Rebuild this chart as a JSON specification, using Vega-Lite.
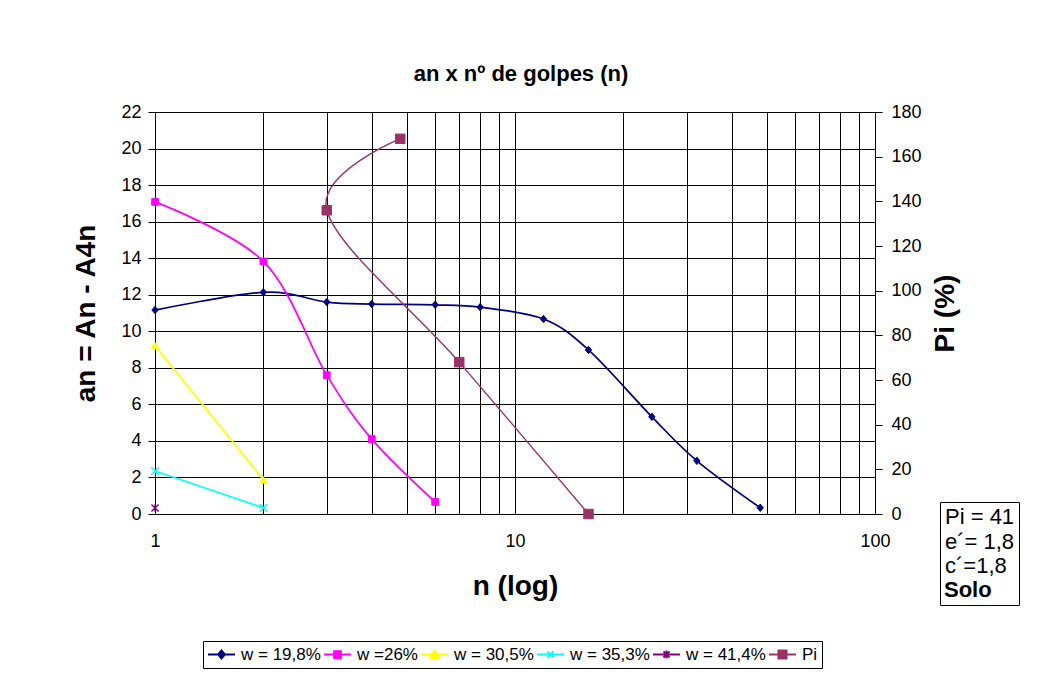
{
  "$schema": "https://vega.github.io/schema/vega-lite/v6.json",
  "width": 720,
  "height": 402,
  "autosize": {"type": "none"},
  "padding": {"left": 155, "top": 112, "right": 170, "bottom": 169},
  "background": "white",
  "config": {
    "view": {"stroke": null},
    "font": "Liberation Sans",
    "axis": {
      "labelFont": "Liberation Sans",
      "titleFont": "Liberation Sans",
      "labelColor": "#000",
      "titleColor": "#000",
      "domainColor": "#000",
      "tickColor": "#000",
      "gridColor": "#000",
      "gridOpacity": 1,
      "labelFontSize": 18,
      "titleFontSize": 28,
      "titleFontWeight": "bold",
      "labelOverlap": false
    }
  },
  "title": {
    "text": "an x nº de golpes (n)",
    "font": "Liberation Sans",
    "fontSize": 22,
    "fontWeight": "bold",
    "color": "#000",
    "anchor": "middle",
    "offset": 17,
    "dx": 6
  },
  "datasets": {
    "w": [
      {"series": "w = 19,8%", "n": 1, "an": 11.16},
      {"series": "w = 19,8%", "n": 2, "an": 12.13},
      {"series": "w = 19,8%", "n": 3, "an": 11.6},
      {"series": "w = 19,8%", "n": 4, "an": 11.49},
      {"series": "w = 19,8%", "n": 6, "an": 11.45},
      {"series": "w = 19,8%", "n": 8, "an": 11.32},
      {"series": "w = 19,8%", "n": 12, "an": 10.67},
      {"series": "w = 19,8%", "n": 16, "an": 8.98},
      {"series": "w = 19,8%", "n": 24, "an": 5.32},
      {"series": "w = 19,8%", "n": 32, "an": 2.91},
      {"series": "w = 19,8%", "n": 48, "an": 0.34},
      {"series": "w =26%", "n": 1, "an": 17.08},
      {"series": "w =26%", "n": 2, "an": 13.82},
      {"series": "w =26%", "n": 3, "an": 7.6},
      {"series": "w =26%", "n": 4, "an": 4.1},
      {"series": "w =26%", "n": 6, "an": 0.66},
      {"series": "w = 30,5%", "n": 1, "an": 9.2},
      {"series": "w = 30,5%", "n": 2, "an": 1.87},
      {"series": "w = 35,3%", "n": 1, "an": 2.35},
      {"series": "w = 35,3%", "n": 2, "an": 0.34},
      {"series": "w = 41,4%", "n": 1, "an": 0.33}
    ],
    "pi": [
      {"series": "Pi", "n": 4.8, "pi": 168, "ord": 1},
      {"series": "Pi", "n": 3, "pi": 136, "ord": 2},
      {"series": "Pi", "n": 7, "pi": 68, "ord": 3},
      {"series": "Pi", "n": 16, "pi": 0, "ord": 4}
    ],
    "leg": [
      {"series": "w = 19,8%"},
      {"series": "w =26%"},
      {"series": "w = 30,5%"},
      {"series": "w = 35,3%"},
      {"series": "w = 41,4%"},
      {"series": "Pi"}
    ],
    "box": [
      {"lbl": "Pi = 41"},
      {"lbl": "e´= 1,8"},
      {"lbl": "c´=1,8"}
    ]
  },
  "layer": [
    {
      "layer": [
        {
          "data": {"name": "w"},
          "mark": {"type": "line", "interpolate": "cardinal", "strokeWidth": 1.7},
          "encoding": {
            "x": {
              "field": "n", "type": "quantitative",
              "scale": {"type": "log", "domain": [1, 100], "nice": false},
              "axis": {
                "values": [1, 2, 3, 4, 5, 6, 7, 8, 9, 10, 20, 30, 40, 50, 60, 70, 80, 90, 100],
                "tickCount": 40,
                "format": "d",
                "labelExpr": "datum.value == 1 || datum.value == 10 || datum.value == 100 ? datum.label : ''",
                "labelFlush": false,
                "grid": true,
                "ticks": false,
                "labelPadding": 18,
                "titlePadding": 22
              },
              "title": "n (log)"
            },
            "y": {
              "field": "an", "type": "quantitative",
              "scale": {"domain": [0, 22], "nice": false},
              "axis": {
                "values": [0, 2, 4, 6, 8, 10, 12, 14, 16, 18, 20, 22],
                "tickCount": 40,
                "format": "d",
                "grid": true,
                "tickSize": 7,
                "labelPadding": 7,
                "titlePadding": 20
              },
              "title": "an = An - A4n"
            },
            "color": {
              "field": "series", "type": "nominal",
              "scale": {
                "domain": ["w = 19,8%", "w =26%", "w = 30,5%", "w = 35,3%", "w = 41,4%", "Pi"],
                "range": ["#000080", "#FF00FF", "#FFFF00", "#00FFFF", "#800080", "#993366"]
              }
            }
          }
        },
        {
          "data": {"name": "w"},
          "transform": [{"filter": {"field": "series", "equal": "w = 19,8%"}}],
          "mark": {"type": "point", "filled": false, "strokeWidth": 1, "size": 55, "opacity": 1, "shape": "M0,-1L0.85,0L0,1L-0.85,0Z"},
          "encoding": {
            "x": {"field": "n", "type": "quantitative", "scale": {"type": "log", "domain": [1, 100], "nice": false}, "title": "n (log)"},
            "y": {"field": "an", "type": "quantitative", "scale": {"domain": [0, 22], "nice": false}, "title": "an = An - A4n"},
            "color": {"field": "series", "type": "nominal"},
            "fill": {"field": "series", "type": "nominal"}
          }
        },
        {
          "data": {"name": "w"},
          "transform": [{"filter": {"field": "series", "equal": "w =26%"}}],
          "mark": {"type": "point", "filled": false, "strokeWidth": 1, "size": 45, "opacity": 1, "shape": "square"},
          "encoding": {
            "x": {"field": "n", "type": "quantitative", "scale": {"type": "log", "domain": [1, 100], "nice": false}, "title": "n (log)"},
            "y": {"field": "an", "type": "quantitative", "scale": {"domain": [0, 22], "nice": false}, "title": "an = An - A4n"},
            "color": {"field": "series", "type": "nominal"},
            "fill": {"field": "series", "type": "nominal"}
          }
        },
        {
          "data": {"name": "w"},
          "transform": [{"filter": {"field": "series", "equal": "w = 30,5%"}}],
          "mark": {"type": "point", "filled": false, "strokeWidth": 1, "size": 55, "opacity": 1, "shape": "triangle-up"},
          "encoding": {
            "x": {"field": "n", "type": "quantitative", "scale": {"type": "log", "domain": [1, 100], "nice": false}, "title": "n (log)"},
            "y": {"field": "an", "type": "quantitative", "scale": {"domain": [0, 22], "nice": false}, "title": "an = An - A4n"},
            "color": {"field": "series", "type": "nominal"},
            "fill": {"field": "series", "type": "nominal"}
          }
        },
        {
          "data": {"name": "w"},
          "transform": [{"filter": {"field": "series", "equal": "w = 35,3%"}}],
          "mark": {"type": "point", "filled": false, "strokeWidth": 1.4, "size": 60, "opacity": 1, "shape": "M-1,-1L1,1M-1,1L1,-1"},
          "encoding": {
            "x": {"field": "n", "type": "quantitative", "scale": {"type": "log", "domain": [1, 100], "nice": false}, "title": "n (log)"},
            "y": {"field": "an", "type": "quantitative", "scale": {"domain": [0, 22], "nice": false}, "title": "an = An - A4n"},
            "color": {"field": "series", "type": "nominal"},
            "fill": {"field": "series", "type": "nominal"}
          }
        },
        {
          "data": {"name": "w"},
          "transform": [{"filter": {"field": "series", "equal": "w = 41,4%"}}],
          "mark": {"type": "point", "filled": false, "strokeWidth": 1.4, "size": 50, "opacity": 1, "shape": "M-1,-1L1,1M-1,1L1,-1M0,-1V1"},
          "encoding": {
            "x": {"field": "n", "type": "quantitative", "scale": {"type": "log", "domain": [1, 100], "nice": false}, "title": "n (log)"},
            "y": {"field": "an", "type": "quantitative", "scale": {"domain": [0, 22], "nice": false}, "title": "an = An - A4n"},
            "color": {"field": "series", "type": "nominal"},
            "fill": {"field": "series", "type": "nominal"}
          }
        },
        {
          "data": {"name": "leg"},
          "mark": {"type": "point", "filled": false, "opacity": 0, "strokeWidth": 2},
          "encoding": {
            "color": {
              "field": "series", "type": "nominal",
              "legend": {
                "title": null, "orient": "none", "legendX": 48, "legendY": 529,
                "direction": "horizontal", "columns": 6, "strokeColor": "#000",
                "padding": 4, "columnPadding": 2, "labelOffset": 5,
                "labelFont": "Liberation Sans", "labelFontSize": 17, "labelColor": "#000",
                "symbolSize": 729, "symbolStrokeWidth": 2, "symbolOpacity": 1, "clipHeight": 19
              }
            },
            "fill": {
              "field": "series", "type": "nominal",
              "scale": {
                "domain": ["w = 19,8%", "w =26%", "w = 30,5%", "w = 35,3%", "w = 41,4%", "Pi"],
                "range": ["#000080", "#FF00FF", "#FFFF00", "#00FFFF", "#800080", "#993366"]
              },
              "legend": {
                "title": null, "orient": "none", "legendX": 48, "legendY": 529,
                "direction": "horizontal", "columns": 6, "strokeColor": "#000",
                "padding": 4, "columnPadding": 2, "labelOffset": 5,
                "labelFont": "Liberation Sans", "labelFontSize": 17, "labelColor": "#000",
                "symbolSize": 729, "symbolStrokeWidth": 2, "symbolOpacity": 1, "clipHeight": 19
              }
            },
            "shape": {
              "field": "series", "type": "nominal",
              "scale": {
                "domain": ["w = 19,8%", "w =26%", "w = 30,5%", "w = 35,3%", "w = 41,4%", "Pi"],
                "range": [
                  "M-1,0H1M0,-0.3L0.25,0L0,0.3L-0.25,0Z",
                  "M-1,0H1M-0.25,-0.25H0.25V0.25H-0.25Z",
                  "M-1,0H1M0,-0.3L0.3,0.25H-0.3Z",
                  "M-1,0H1M-0.22,-0.22L0.22,0.22M-0.22,0.22L0.22,-0.22",
                  "M-1,0H1M-0.22,-0.22L0.22,0.22M-0.22,0.22L0.22,-0.22M0,-0.3V0.3",
                  "M-1,0H1M-0.3,-0.3H0.3V0.3H-0.3Z"
                ]
              },
              "legend": {
                "title": null, "orient": "none", "legendX": 48, "legendY": 529,
                "direction": "horizontal", "columns": 6, "strokeColor": "#000",
                "padding": 4, "columnPadding": 2, "labelOffset": 5,
                "labelFont": "Liberation Sans", "labelFontSize": 17, "labelColor": "#000",
                "symbolSize": 729, "symbolStrokeWidth": 2, "symbolOpacity": 1, "clipHeight": 19
              }
            }
          }
        },
        {
          "data": {"name": "box"},
          "mark": {"type": "point", "opacity": 0},
          "encoding": {
            "strokeDash": {
              "field": "lbl", "type": "nominal",
              "scale": {"domain": ["Pi = 41", "e´= 1,8", "c´=1,8"]},
              "legend": {
                "title": "Solo",
                "titleOrient": "bottom",
                "titleAnchor": "start",
                "titleFont": "Liberation Sans",
                "titleFontSize": 22,
                "titleFontWeight": "bold",
                "titleColor": "#000",
                "titlePadding": 3,
                "orient": "none",
                "legendX": 785,
                "legendY": 390,
                "direction": "vertical",
                "strokeColor": "#000",
                "padding": 4,
                "rowPadding": 2.5,
                "labelFont": "Liberation Sans",
                "labelFontSize": 22,
                "labelColor": "#000",
                "symbolType": "M-1,0H1",
                "symbolSize": 7921,
                "symbolOpacity": 0,
                "symbolStrokeWidth": 0,
                "labelOffset": -88,
                "clipHeight": 22
              }
            }
          }
        }
      ]
    },
    {
      "layer": [
        {
          "data": {"name": "pi"},
          "mark": {"type": "line", "interpolate": "cardinal", "strokeWidth": 1.4},
          "encoding": {
            "x": {"field": "n", "type": "quantitative", "scale": {"type": "log", "domain": [1, 100], "nice": false}, "title": "n (log)"},
            "y": {
              "field": "pi", "type": "quantitative",
              "scale": {"domain": [0, 180], "nice": false},
              "axis": {
                "orient": "right",
                "values": [0, 20, 40, 60, 80, 100, 120, 140, 160, 180],
                "tickCount": 40,
                "format": "d",
                "grid": false,
                "tickSize": 7,
                "labelPadding": 9,
                "titleAngle": -90,
                "titleBaseline": "top",
                "titlePadding": 10
              },
              "title": "Pi (%)"
            },
            "order": {"field": "ord", "type": "quantitative"},
            "color": {"field": "series", "type": "nominal"}
          }
        },
        {
          "data": {"name": "pi"},
          "mark": {"type": "point", "filled": false, "strokeWidth": 1, "size": 90, "opacity": 1, "shape": "square"},
          "encoding": {
            "x": {"field": "n", "type": "quantitative", "scale": {"type": "log", "domain": [1, 100], "nice": false}, "title": "n (log)"},
            "y": {"field": "pi", "type": "quantitative", "scale": {"domain": [0, 180], "nice": false}, "title": "Pi (%)"},
            "color": {"field": "series", "type": "nominal"},
            "fill": {"field": "series", "type": "nominal"}
          }
        }
      ]
    }
  ],
  "resolve": {"scale": {"y": "independent"}}
}
